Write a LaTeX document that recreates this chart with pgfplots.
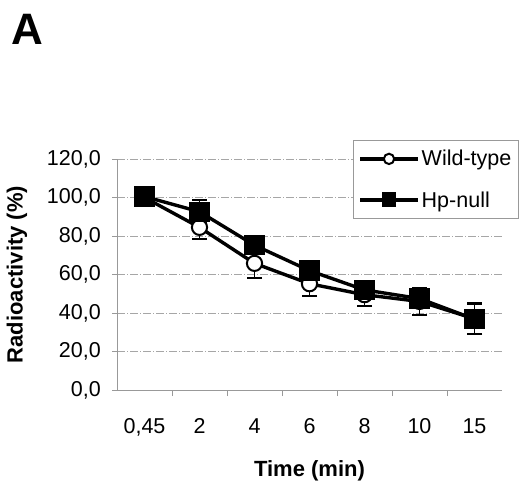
\documentclass[border=0pt]{standalone}
\usepackage{fontspec}
\setmainfont{Liberation Sans}
\usepackage{pgfplots}
\pgfplotsset{compat=1.18}

\begin{document}
\begin{tikzpicture}[x=1pt,y=1pt]
\useasboundingbox (0,0) rectangle (521,482);
\node[font=\fontsize{44}{48}\selectfont\bfseries] at (27,453) {A};

\begin{axis}[
    at={(117pt,92pt)}, anchor=south west,
    scale only axis, width=385pt, height=231pt,
    xmin=-0.5, xmax=6.5,
    ymin=0, ymax=120,
    xtick={0,1,2,3,4,5,6},
    xticklabels={{0,45},2,4,6,8,10,15},
    minor xtick={0.5,1.5,2.5,3.5,4.5,5.5},
    ytick={0,20,40,60,80,100,120},
    yticklabels={{0,0},{20,0},{40,0},{60,0},{80,0},{100,0},{120,0}},
    every major x tick/.append style={draw=none},
    tick align=outside,
    major tick length=5pt,
    minor tick length=6pt,
    tick style={gray!80, line width=0.6pt},
    axis x line*=bottom, axis y line*=left,
    axis line style={gray!80, line width=0.6pt},
    ymajorgrids=true,
    grid style={gray!70, line width=0.6pt, dash pattern=on 8pt off 2pt on 1pt off 2pt},
    tick label style={font=\fontsize{21.5}{25}\selectfont},
    xticklabel style={anchor=base, inner sep=0pt, yshift=-38pt},
    yticklabel style={anchor=east, inner sep=0pt, xshift=-11pt},
    every axis x label/.style={at={(axis description cs:0.5,-0.35)}, anchor=center},
    every axis y label/.style={at={(axis description cs:-0.26,0.5)}, rotate=90, anchor=center},
    label style={font=\fontsize{22}{26}\selectfont\bfseries},
    xlabel={Time (min)},
    ylabel={Radioactivity (\%)},
    legend style={at={(axis description cs:0.613,1.082)}, anchor=north west,
        draw=gray!80, line width=0.6pt, fill=white,
        font=\fontsize{21.5}{25}\selectfont, row sep=20pt,
        inner xsep=5pt, inner ysep=8pt},
    legend cell align=left,
    legend image code/.code={
        \draw[mark repeat=2, mark phase=2, #1, every mark/.append style={scale=0.68}]
            plot coordinates {(0pt,0pt) (29pt,0pt) (58pt,0pt)};
    },
    clip=false,
]

% Wild-type
\addplot[black, line width=3.4pt,
    mark=*, mark size=7.6pt, mark options={fill=white, draw=black, line width=2pt, solid},
    error bars/.cd, y dir=both, y explicit,
    error bar style={line width=1.8pt, black},
    error mark options={rotate=90, mark size=7.5pt, line width=1.8pt, black}]
    coordinates {
    (0,100) +- (0,0)
    (1,84.5) +- (0,6.2)
    (2,65.8) +- (0,7.5)
    (3,55.2) +- (0,6.4)
    (4,49.5) +- (0,6)
    (5,46) +- (0,7)
    (6,37) +- (0,8)
    };
\addlegendentry{Wild-type}

% Hp-null
\addplot[black, line width=3.4pt,
    mark=square*, mark size=8.5pt, mark options={fill=black, draw=black, solid},
    error bars/.cd, y dir=both, y explicit,
    error bar style={line width=1.8pt, black},
    error mark options={rotate=90, mark size=7.5pt, line width=1.8pt, black}]
    coordinates {
    (0,100.5) +- (0,0)
    (1,92.6) +- (0,6)
    (2,75.2) +- (0,4)
    (3,62) +- (0,4)
    (4,52) +- (0,3)
    (5,47.5) +- (0,3)
    (6,36.8) +- (0,8)
    };
\addlegendentry{Hp-null}
\end{axis}
\end{tikzpicture}
\end{document}
